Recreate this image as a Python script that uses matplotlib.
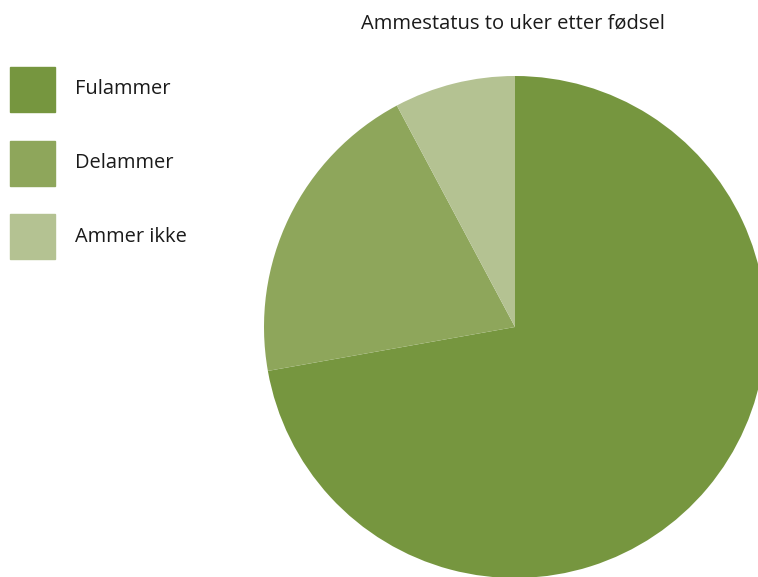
import matplotlib
matplotlib.use("Agg")
import matplotlib.pyplot as plt
from matplotlib.patches import Rectangle

plt.rcParams['font.family'] = ['Open Sans', 'DejaVu Sans']

title = "Ammestatus to uker etter fødsel"
labels = ["Fulammer", "Delammer", "Ammer ikke"]
values = [72.2, 20.0, 7.8]
colors = ["#76963F", "#8EA65B", "#B4C292"]

W, H = 758, 577
fig = plt.figure(figsize=(W / 100, H / 100), dpi=100)

# pie: centre (515, 327) px from top-left, radius ~251 px
cx, cy, r = 515, 327, 251
ax = fig.add_axes([(cx - r) / W, (H - cy - r) / H, 2 * r / W, 2 * r / H])
ax.pie(values, colors=colors, startangle=90, counterclock=False,
       radius=1, wedgeprops=dict(linewidth=0))
ax.set_xlim(-1, 1)
ax.set_ylim(-1, 1)
ax.set_aspect('equal')
ax.axis('off')

fig.text(513 / W, 1 - 24 / H, title, ha='center', va='center',
         fontsize=14.5, color='#1a1a1a')

# hand made legend on the left
for i, (lab, col) in enumerate(zip(labels, colors)):
    top = 67 + i * 73.5
    fig.patches.append(Rectangle((10 / W, 1 - (top + 45) / H), 45 / W, 45 / H,
                                 transform=fig.transFigure, color=col))
    fig.text(75 / W, 1 - (top + 22.5) / H, lab, ha='left', va='center',
             fontsize=14.4, color='#1a1a1a')

fig.savefig("out.png", dpi=100)
